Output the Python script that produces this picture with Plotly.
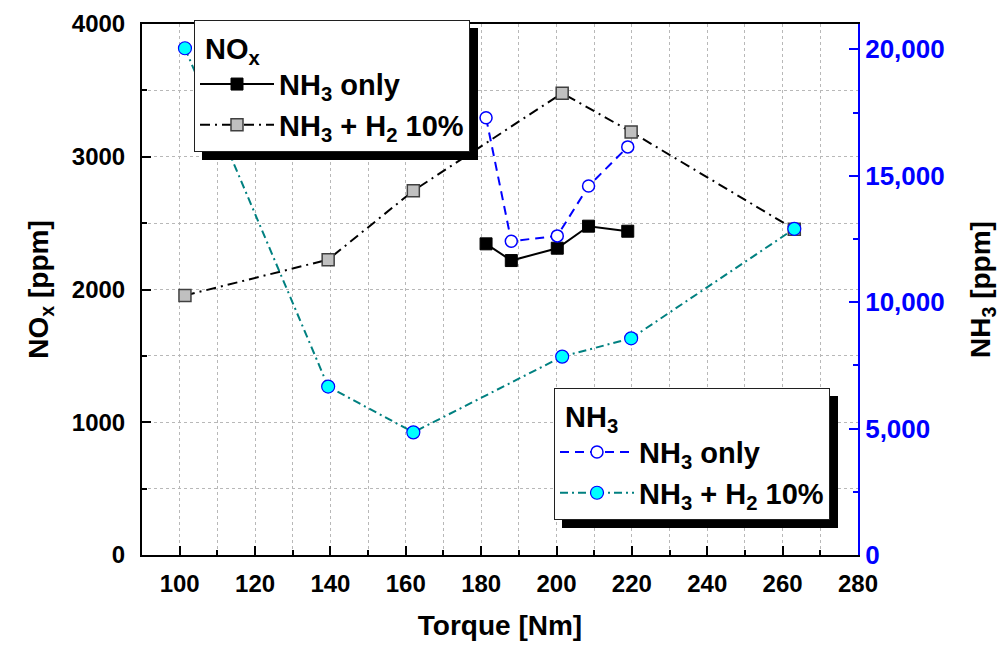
import plotly.graph_objects as go

# ---- data ----
torque_nh3_only = [181.3, 188.0, 200.2, 208.5, 218.9]
nox_nh3_only = [2344, 2218, 2311, 2477, 2439]
nh3_nh3_only = [17290, 12410, 12620, 14590, 16140]

torque_h2 = [101.4, 139.4, 162.0, 201.5, 219.8, 263.1]
nox_h2 = [1955, 2225, 2744, 3479, 3187, 2454]
nh3_h2 = [20040, 6660, 4850, 7846, 8570, 12900]

FONT = "Liberation Sans, Arial, sans-serif"

fig = go.Figure()

fig.add_trace(go.Scatter(
    x=torque_nh3_only, y=nox_nh3_only, mode="lines+markers",
    name="NH<sub>3</sub> only", legend="legend",
    line=dict(color="black", width=2),
    marker=dict(symbol="square", size=12, color="black", line=dict(color="black", width=1)),
    yaxis="y"))
fig.add_trace(go.Scatter(
    x=torque_h2, y=nox_h2, mode="lines+markers",
    name="NH<sub>3</sub> + H<sub>2</sub> 10%", legend="legend",
    line=dict(color="black", width=2, dash="10px,5px,2px,5px"),
    marker=dict(symbol="square", size=12, color="#c0c0c0", line=dict(color="#404040", width=1.5)),
    yaxis="y"))
fig.add_trace(go.Scatter(
    x=torque_nh3_only, y=nh3_nh3_only, mode="lines+markers",
    name="NH<sub>3</sub> only", legend="legend2",
    line=dict(color="#0000ff", width=2, dash="9px,6px"),
    marker=dict(symbol="circle", size=12, color="white", line=dict(color="#0000ff", width=1.5)),
    yaxis="y2"))
fig.add_trace(go.Scatter(
    x=torque_h2, y=nh3_h2, mode="lines+markers",
    name="NH<sub>3</sub> + H<sub>2</sub> 10%", legend="legend2",
    line=dict(color="#008080", width=2, dash="8px,4px,2px,4px"),
    marker=dict(symbol="circle", size=13, color="#00ffff", line=dict(color="#0000ff", width=1.2)),
    yaxis="y2"))

grid = dict(showgrid=True, gridcolor="#b8b8b8", griddash="dot", gridwidth=1)
tickfont = dict(family=FONT, size=24, color="black", weight="bold")
titlefont = dict(family=FONT, size=28, color="black", weight="bold")
legfont = dict(family=FONT, size=29, color="black", weight="bold")

# plot area in figure pixels (page has an 8px body margin)
L, R, T, B = 134, 155, 16, 98
PW, PH = 1005 - L - R, 645 - T - B

def px2paper_x(px):
    return (px - L) / PW

def px2paper_y(py):
    return 1 - (py - T) / PH

# legend boxes (figure pixels: left, top, width, height) and their shadows
leg1 = (186, 12, 276, 132)
leg2 = (546, 380, 276, 132)
shadow = 8

shapes = []
for (lx, ly, w, h) in (leg1, leg2):
    shapes.append(dict(
        type="rect", xref="paper", yref="paper", layer="above",
        x0=px2paper_x(lx + shadow), x1=px2paper_x(lx + w + shadow),
        y0=px2paper_y(ly + h + shadow), y1=px2paper_y(ly + shadow),
        fillcolor="black", line=dict(width=0)))

fig.update_layout(
    width=1005, height=645,
    margin=dict(l=L, r=R, t=T, b=B, autoexpand=False),
    plot_bgcolor="white", paper_bgcolor="white",
    font=dict(family=FONT),
    shapes=shapes,
    xaxis=dict(
        range=[90, 280], dtick=20, tick0=100,
        showline=True, linecolor="black", linewidth=2, mirror=True,
        ticks="inside", ticklen=9, tickwidth=2, tickcolor="black",
        tickfont=tickfont, ticklabelstandoff=6,
        minor=dict(dtick=10, ticks="inside", ticklen=5, tickcolor="black", tickwidth=1.5, **grid),
        zeroline=False, **grid,
        title=dict(text="Torque [Nm]", font=titlefont, standoff=20),
    ),
    yaxis=dict(
        range=[0, 4000], dtick=1000,
        showline=True, linecolor="black", linewidth=2,
        ticks="inside", ticklen=9, tickwidth=2, tickcolor="black",
        tickfont=tickfont, ticklabelstandoff=10,
        minor=dict(dtick=500, ticks="inside", ticklen=5, tickcolor="black", tickwidth=1.5, **grid),
        zeroline=False, **grid,
        title=dict(text="NO<sub>x</sub> [ppm]", font=titlefont, standoff=15),
    ),
    yaxis2=dict(
        range=[0, 21000], dtick=5000, tickformat=",d",
        overlaying="y", side="right",
        showline=True, linecolor="#0000ff", linewidth=2,
        ticks="inside", ticklen=9, tickwidth=2, tickcolor="#0000ff",
        tickfont=dict(family=FONT, size=26, color="#0000ff", weight="bold"), ticklabelstandoff=0,
        minor=dict(dtick=2500, ticks="inside", ticklen=5, tickcolor="#0000ff", tickwidth=1.5, showgrid=False),
        showgrid=False, zeroline=False,
        title=dict(text="NH<sub>3</sub> [ppm]", font=titlefont, standoff=27),
    ),
    legend=dict(
        x=px2paper_x(leg1[0]), y=px2paper_y(leg1[1]), xanchor="left", yanchor="top",
        bgcolor="white", bordercolor="#202020", borderwidth=1,
        font=legfont,
        title=dict(text="\u00a0NO<sub>x</sub>", font=legfont),
        itemwidth=74, tracegroupgap=0,
    ),
    legend2=dict(
        x=px2paper_x(leg2[0]), y=px2paper_y(leg2[1]), xanchor="left", yanchor="top",
        bgcolor="white", bordercolor="#202020", borderwidth=1,
        font=legfont,
        title=dict(text="\u00a0NH<sub>3</sub>", font=legfont),
        itemwidth=74, tracegroupgap=0,
    ),
    showlegend=True,
)

fig.write_html("out.html")
